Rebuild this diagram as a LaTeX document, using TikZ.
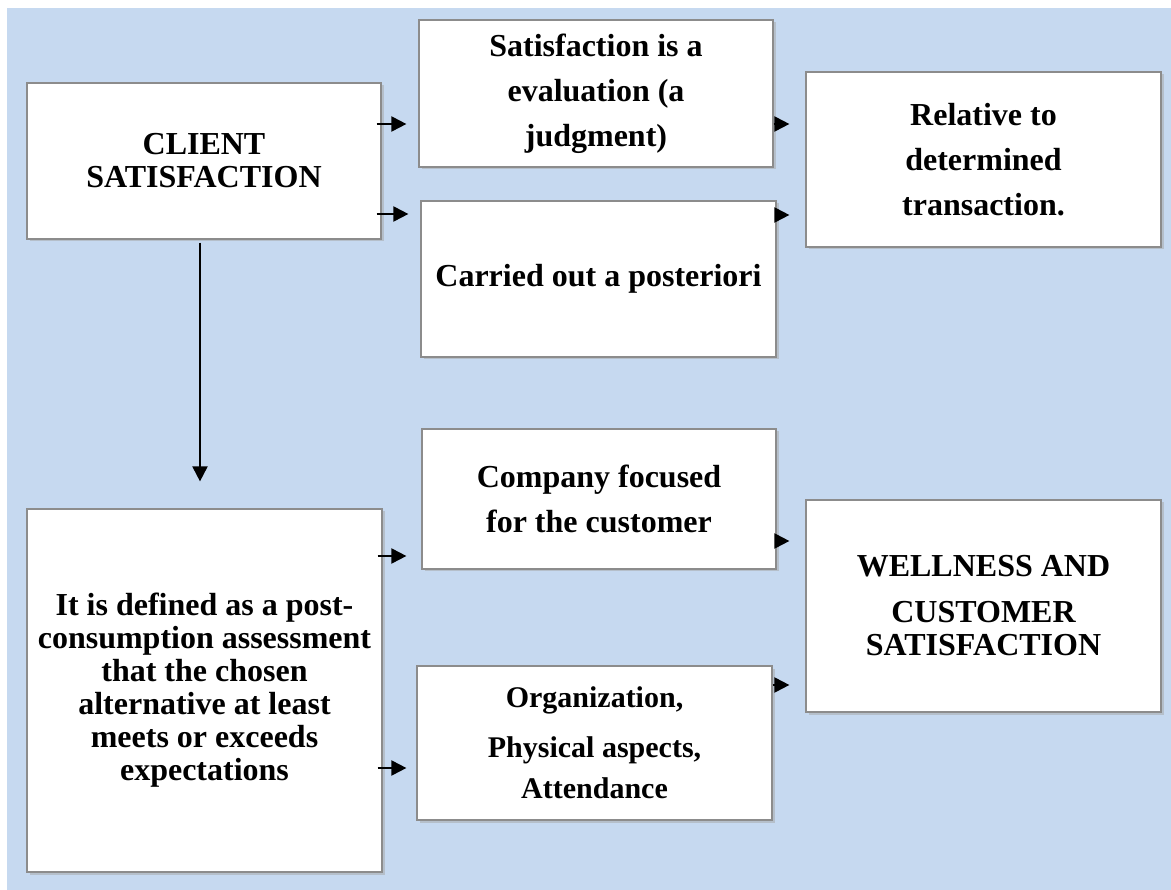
\documentclass[tikz,border=0pt]{standalone}
\usepackage{fontspec}
\setmainfont{Liberation Serif}
\usepackage{tikz}
\usetikzlibrary{
  % enables the triangle tips
  arrows.meta,%
  % enables the box shadows
  shadows,%
  calc
}
\definecolor{paneblue}{RGB}{198,217,240}
\definecolor{boxedge}{RGB}{140,140,140}
\tikzset{>={Triangle[length=15pt, width=15pt]}}
\tikzset{box/.style={draw=boxedge, line width=1.2pt, fill=white, inner sep=0pt,
  align=center, font=\fontsize{32}{33}\selectfont\bfseries,
  drop shadow={shadow xshift=2.5pt, shadow yshift=-2.5pt, fill=black!35}}}
\tikzset{arr/.style={->, line width=2pt}}

\begin{document}
\begin{tikzpicture}[x=1pt, y=-1pt]
  \useasboundingbox (0,0) rectangle (1171,890);
  \fill[paneblue] (7,8) rectangle (1171,890);
  % upper group
  \node[box, minimum width=354pt, minimum height=156pt] (client) at (204,161) {CLIENT\\SATISFACTION};
  \node[box, minimum width=354pt, minimum height=147pt] (judg) at (596,93.5) {Satisfaction is a\\[12pt] evaluation (a\\[12pt] judgment)};
  \node[box, minimum width=355pt, minimum height=156pt] (post) at (598.5,279) {Carried out a posteriori};
  \node[box, minimum width=355pt, minimum height=175pt] (trans) at (983.5,159.5) {Relative to\\[12pt] determined\\[12pt] transaction.};
  % lower group
  \node[box, minimum width=355pt, minimum height=363pt] (defin) at (204.5,690.5) {It is defined as a post-\\consumption assessment\\that the chosen\\alternative at least\\meets or exceeds\\expectations};
  \node[box, minimum width=354pt, minimum height=140pt] (focus) at (599,499) {Company focused\\[12pt] for the customer};
  \node[box, minimum width=355pt, minimum height=154pt, font=\fontsize{30}{41}\selectfont\bfseries] (aspect) at (594.5,743) {Organization,\\[9pt] Physical aspects,\\ Attendance};
  \node[box, minimum width=355pt, minimum height=212pt] (well) at (983.5,606) {WELLNESS AND\\[13pt] CUSTOMER\\SATISFACTION};
  % connectors
  \draw[arr, shorten <=-5pt, shorten >=12pt] (client.east |- 0,124) -- (judg.west |- 0,124);
  \draw[arr, shorten <=-5pt, shorten >=12pt] (client.east |- 0,214) -- (post.west |- 0,214);
  \draw[arr, shorten >=16pt] (judg.east |- 0,124) -- (trans.west |- 0,124);
  \draw[arr, shorten >=16pt] (post.east |- 0,215) -- (trans.west |- 0,215);
  \draw[arr, shorten <=3pt, shorten >=27pt] (client.south -| 200,0) -- (defin.north -| 200,0);
  \draw[arr, shorten <=-5pt, shorten >=15pt] (defin.east |- 0,556) -- (focus.west |- 0,556);
  \draw[arr, shorten <=-5pt, shorten >=10pt] (defin.east |- 0,768) -- (aspect.west |- 0,768);
  \draw[arr, shorten >=16pt] (focus.east |- 0,541) -- (well.west |- 0,541);
  \draw[arr, shorten >=16pt] (aspect.east |- 0,685) -- (well.west |- 0,685);
\end{tikzpicture}
\end{document}
